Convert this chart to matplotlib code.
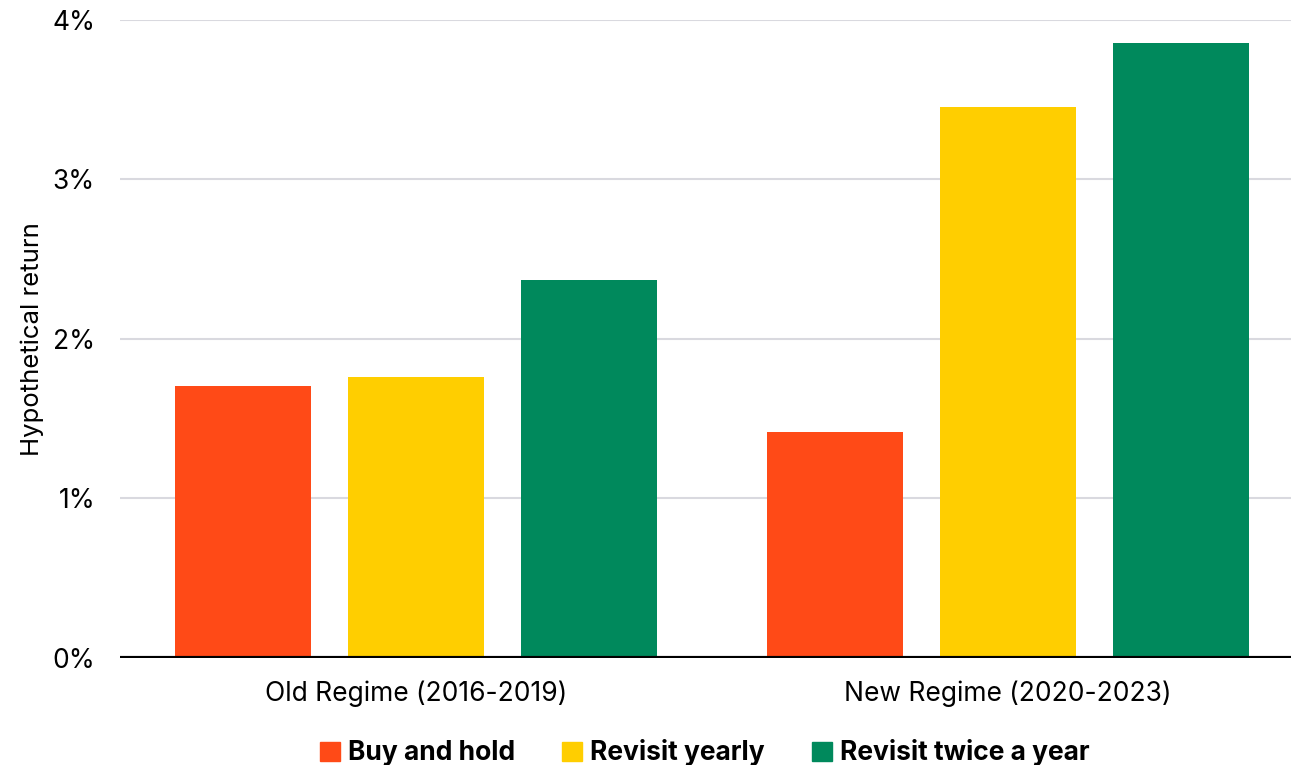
import matplotlib
matplotlib.use("Agg")
import matplotlib.pyplot as plt
from matplotlib.patches import Patch
import numpy as np

plt.rcParams['font.family'] = ['Inter', 'DejaVu Sans']

regimes = ['Old Regime (2016-2019)', 'New Regime (2020-2023)']
strategies = ['Buy and hold', 'Revisit yearly', 'Revisit twice a year']
buy_hold = [1.705, 1.417]
yearly = [1.762, 3.455]
twice_year = [2.37, 3.856]
colors = ['#FF4A17', '#FFCE00', '#00895C']

fig = plt.figure(figsize=(12.91, 7.65), dpi=100)
ax = fig.add_axes([0.093, 0.14, 0.907, 0.834])

x = np.arange(len(regimes))
width = 0.23
step = 0.292
for i, (vals, c) in enumerate(zip([buy_hold, yearly, twice_year], colors)):
    ax.bar(x + (i - 1) * step, vals, width, color=c, zorder=3)

ax.set_ylim(0, 4)
ax.set_xlim(-0.5, 1.478)
ax.set_yticks([0, 1, 2, 3, 4])
ax.set_yticklabels([f'{v}%' for v in range(5)])
ax.set_xticks(x)
ax.set_xticklabels(regimes)
ax.tick_params(axis='y', length=0, pad=18, labelsize=19)
ax.tick_params(axis='x', length=0, pad=16, labelsize=19)
ax.grid(axis='y', color='#d9d9df', linewidth=1.5, zorder=0)
ax.axhline(0, color='black', linewidth=3, zorder=4)
for s in ax.spines.values():
    s.set_visible(False)
ax.set_ylabel('Hypothetical return', fontsize=18.5, labelpad=6)

handles = [Patch(color=c, label=s) for c, s in zip(colors, strategies)]
leg = fig.legend(handles=handles, loc='lower center', bbox_to_anchor=(0.546, -0.033),
                 ncol=3, frameon=False, handlelength=0.75, handleheight=0.75,
                 handletextpad=0.3, columnspacing=1.8,
                 prop={'weight': 'bold', 'size': 19})

fig.savefig('out.png', dpi=100)
